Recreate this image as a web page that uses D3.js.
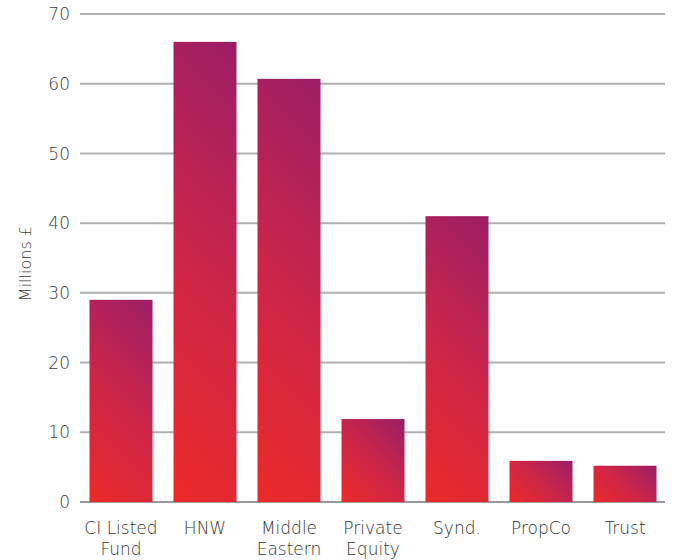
<!DOCTYPE html>
<html>
<head>
<meta charset="utf-8">
<script src="https://cdn.jsdelivr.net/npm/d3@7"></script>
<style>
  body { margin: 0; background: #fff; }
  svg text { font-family: "DejaVu Sans", sans-serif; font-weight: 200; }
</style>
</head>
<body>
<svg id="chart" width="674" height="560"></svg>
<script>
// Data
var categories = ["CI Listed|Fund", "HNW", "Middle|Eastern", "Private|Equity", "Synd.", "PropCo", "Trust"];
var values = [29, 66, 60.7, 11.9, 41, 5.9, 5.2];
var yTicks = [0, 10, 20, 30, 40, 50, 60, 70];

var svg = d3.select("#chart");

// Scales
var x = d3.scaleBand()
    .domain(categories)
    .range([79, 667])
    .paddingInner(0.25)
    .paddingOuter(0.125);

var y = d3.scaleLinear()
    .domain([0, 70])
    .range([502, 14]);

var defs = svg.append("defs");

// Grid lines
svg.append("g")
    .selectAll("line")
    .data(yTicks)
    .enter().append("line")
        .attr("x1", 80)
        .attr("x2", 665)
        .attr("y1", d => y(d))
        .attr("y2", d => y(d))
        .attr("stroke", d => d === 0 ? "#9a9a9a" : "#b0b0b0")
        .attr("stroke-width", 2);

// Y tick labels
svg.append("g")
    .selectAll("text")
    .data(yTicks)
    .enter().append("text")
        .attr("x", 70)
        .attr("y", d => y(d))
        .attr("dy", "0.36em")
        .attr("text-anchor", "end")
        .attr("fill", "#3c3c3c")
        .style("font-size", "17px")
        .text(d => d);

// Y axis title
svg.append("text")
    .attr("transform", "translate(31," + y(34.2) + ") rotate(-90)")
    .attr("text-anchor", "middle")
    .attr("fill", "#3c3c3c")
    .style("font-size", "16px")
    .text("Millions £");

// Bars, each with its own 45° gradient (red bottom-left -> purple top-right)
values.forEach(function(v, i) {
    var bx = x(categories[i]), w = x.bandwidth();
    var top = y(v), bottom = y(0), h = bottom - top;
    var s = (w + h) / 2;
    var g = defs.append("linearGradient")
        .attr("id", "barGrad" + i)
        .attr("gradientUnits", "userSpaceOnUse")
        .attr("x1", bx).attr("y1", bottom)
        .attr("x2", bx + s).attr("y2", bottom - s);
    g.append("stop").attr("offset", "0%").attr("stop-color", "#ec2a28");
    g.append("stop").attr("offset", "50%").attr("stop-color", "#cc2549");
    g.append("stop").attr("offset", "100%").attr("stop-color", "#9b1e66");

    svg.append("rect")
        .attr("x", bx)
        .attr("y", top)
        .attr("width", w)
        .attr("height", h)
        .attr("fill", "url(#barGrad" + i + ")");
});

// X labels (multi-line)
var xl = svg.append("g")
    .selectAll("text")
    .data(categories)
    .enter().append("text")
        .attr("x", d => x(d) + x.bandwidth() / 2)
        .attr("y", 534)
        .attr("text-anchor", "middle")
        .attr("fill", "#333")
        .style("font-size", "17px");

xl.each(function(d) {
    var lines = d.split("|");
    var t = d3.select(this);
    lines.forEach(function(l, j) {
        t.append("tspan")
            .attr("x", t.attr("x"))
            .attr("dy", j === 0 ? 0 : 21)
            .text(l);
    });
});
</script>
</body>
</html>
